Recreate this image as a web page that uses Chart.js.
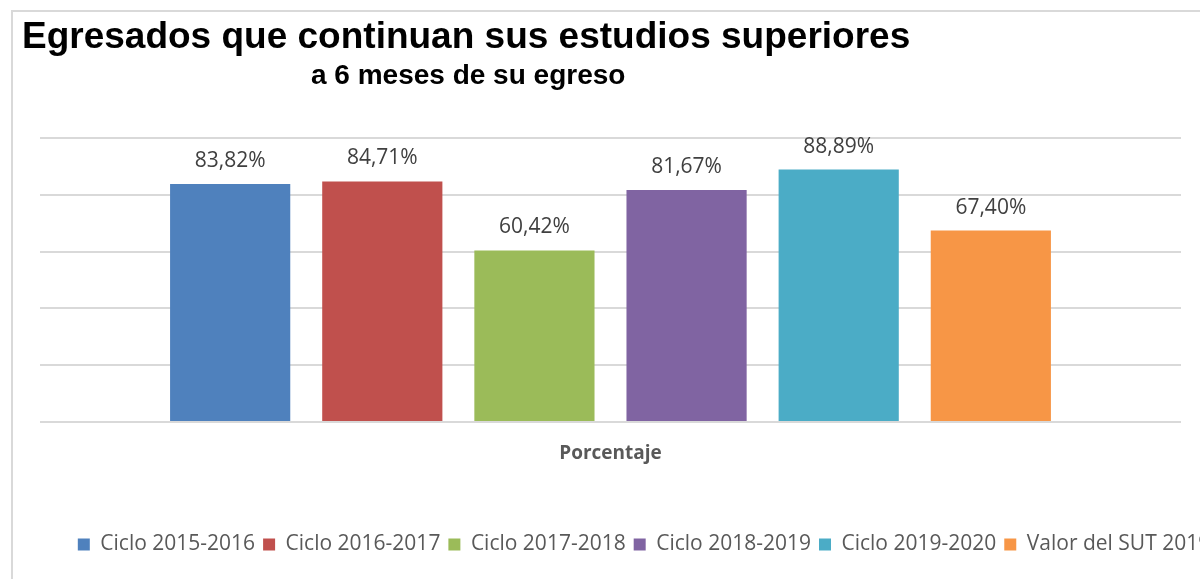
<!DOCTYPE html>
<html lang="es">
<head>
    <meta charset="UTF-8">
    <script src="https://cdn.jsdelivr.net/npm/chart.js"></script>
    <title>Egresados que continuan sus estudios superiores</title>
    <style>
        body {
            margin: 0;
            overflow: hidden;
            background: #ffffff;
        }
        #frame {
            position: absolute;
            left: 11px;
            top: 10px;
            border: 2px solid #d9d9d9;
            width: 1262px;
            height: 570px;
        }
    </style>
</head>
<body>
<script>
    // data
    const categories = ['Porcentaje'];
    const seriesNames = ['Ciclo 2015-2016', 'Ciclo 2016-2017', 'Ciclo 2017-2018', 'Ciclo 2018-2019', 'Ciclo 2019-2020', 'Valor del SUT 2019'];
    const seriesValues = [83.82, 84.71, 60.42, 81.67, 88.89, 67.40];
    const seriesColors = ['#4F81BD', '#C0504D', '#9BBB59', '#8064A2', '#4BACC6', '#F79646'];
    const yTicks = [0, 20, 40, 60, 80, 100];

    const mainTitle = 'Egresados que continuan sus estudios superiores';
    const subTitle = 'a 6 meses de su egreso';

    // titles are drawn by hand since the layout is not a standard one
    const titlePlugin = {
        id: 'titles',
        afterDraw(chart) {
            const ctx = chart.ctx;
            ctx.save();
            ctx.fillStyle = '#000000';
            ctx.textBaseline = 'alphabetic';
            ctx.textAlign = 'left';
            ctx.font = 'bold 37px "Liberation Sans", Arial, sans-serif';
            ctx.fillText(mainTitle, 9, 36);
            ctx.font = 'bold 28px "Liberation Sans", Arial, sans-serif';
            ctx.fillText(subTitle, 298, 72);
            ctx.restore();
        }
    };

    // value labels on top of each bar
    const valueLabels = {
        id: 'valueLabels',
        afterDatasetsDraw(chart) {
            const ctx = chart.ctx;
            ctx.save();
            ctx.font = '21px "Open Sans", sans-serif';
            ctx.fillStyle = '#404040';
            ctx.textAlign = 'center';
            ctx.textBaseline = 'alphabetic';
            chart.data.datasets.forEach((ds, i) => {
                chart.getDatasetMeta(i).data.forEach((bar, j) => {
                    const txt = ds.data[j].toFixed(2).replace('.', ',') + '%';
                    ctx.fillText(txt, bar.x, bar.y - 17);
                });
            });
            ctx.restore();
        }
    };

    const frame = document.createElement('div');
    frame.id = 'frame';
    const canvas = document.createElement('canvas');
    canvas.width = 1262;
    canvas.height = 570;
    frame.appendChild(canvas);
    document.body.appendChild(frame);

    const datasets = seriesNames.map((name, i) => ({
        label: name,
        data: [seriesValues[i]],
        backgroundColor: seriesColors[i],
        borderWidth: 0,
        barPercentage: 0.79,
        categoryPercentage: 0.8
    }));

    new Chart(canvas, {
        type: 'bar',
        data: {
            labels: categories,
            datasets: datasets
        },
        options: {
            responsive: false,
            animation: false,
            layout: {
                padding: {top: 126, left: 0, right: 0, bottom: 17}
            },
            plugins: {
                legend: {
                    position: 'bottom',
                    labels: {
                        boxWidth: 12,
                        boxHeight: 12,
                        padding: 8,
                        color: '#595959',
                        font: {family: '"Open Sans", sans-serif', size: 21}
                    }
                },
                tooltip: {enabled: false}
            },
            scales: {
                x: {
                    grid: {display: false, drawTicks: false},
                    border: {display: false},
                    ticks: {
                        padding: 20,
                        color: '#595959',
                        font: {family: '"Open Sans", sans-serif', size: 19, weight: 'bold'}
                    },
                    afterFit(axis) {
                        axis.height = 104;
                    }
                },
                y: {
                    min: 0,
                    max: 100,
                    afterBuildTicks(axis) {
                        axis.ticks = yTicks.map(v => ({value: v}));
                    },
                    ticks: {display: false},
                    grid: {color: '#d9d9d9', lineWidth: 2, drawTicks: false},
                    border: {display: false},
                    afterFit(axis) {
                        axis.width = 27;
                    }
                },
                yRight: {
                    position: 'right',
                    min: 0,
                    max: 100,
                    ticks: {display: false},
                    grid: {display: false, drawTicks: false},
                    border: {display: false},
                    afterFit(axis) {
                        axis.width = 94;
                    }
                }
            }
        },
        plugins: [titlePlugin, valueLabels]
    });
</script>
</body>
</html>
